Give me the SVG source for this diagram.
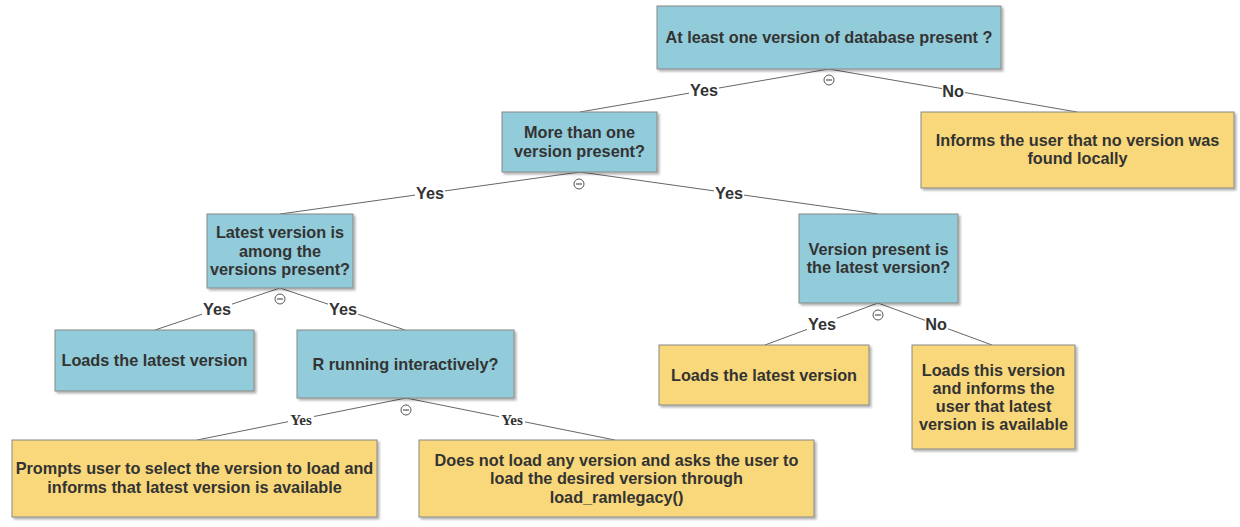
<svg xmlns="http://www.w3.org/2000/svg" width="1240" height="527" viewBox="0 0 1240 527">
<defs>
<filter id="sh" x="-10%" y="-10%" width="120%" height="130%">
<feDropShadow dx="2" dy="2" stdDeviation="1" flood-color="#000" flood-opacity="0.3"/>
</filter>
<style>
.q{fill:#92cbd9;stroke:#888;stroke-width:1;filter:url(#sh)}
.a{fill:#f8d87a;stroke:#888;stroke-width:1;filter:url(#sh)}
.t{font-family:"Liberation Sans",Arial,sans-serif;font-weight:bold;font-size:16.25px;fill:#333;text-anchor:middle}
.e{stroke:#666;stroke-width:1;fill:none}
.lb{fill:#fff}
.l{font-family:"Liberation Sans",Arial,sans-serif;font-weight:bold;font-size:16.25px;fill:#333;text-anchor:middle}
.ls{font-family:"Liberation Serif","Times New Roman",serif;font-weight:bold;font-size:15px;fill:#333;text-anchor:middle}
.c{fill:#fff;stroke:#555;stroke-width:1}
.cm{stroke:#555;stroke-width:1.2}
</style>
</defs>
<rect width="1240" height="527" fill="#fff"/>
<g id="connectors">
<line class="e" x1="829" y1="69" x2="580" y2="112"/>
<line class="e" x1="829" y1="69" x2="1077" y2="112"/>
<line class="e" x1="580" y1="172" x2="280" y2="214"/>
<line class="e" x1="580" y1="172" x2="878" y2="214"/>
<line class="e" x1="280" y1="288" x2="155" y2="330"/>
<line class="e" x1="280" y1="288" x2="405" y2="330"/>
<line class="e" x1="406" y1="398" x2="197" y2="440"/>
<line class="e" x1="406" y1="398" x2="615" y2="440"/>
<line class="e" x1="878" y1="303" x2="765" y2="345"/>
<line class="e" x1="878" y1="303" x2="992" y2="345"/>
<rect class="lb" x="689" y="82" width="30" height="16"/><text class="l" x="704" y="96">Yes</text>
<rect class="lb" x="942" y="83" width="23" height="16"/><text class="l" x="953" y="97">No</text>
<rect class="lb" x="415" y="185" width="30" height="16"/><text class="l" x="430" y="199">Yes</text>
<rect class="lb" x="714" y="185" width="30" height="16"/><text class="l" x="729" y="199">Yes</text>
<rect class="lb" x="202" y="301" width="30" height="16"/><text class="l" x="217" y="315">Yes</text>
<rect class="lb" x="328" y="301" width="30" height="16"/><text class="l" x="343" y="315">Yes</text>
<rect class="lb" x="288" y="412" width="26" height="15"/><text class="ls" x="301" y="425">Yes</text>
<rect class="lb" x="499" y="412" width="26" height="15"/><text class="ls" x="512" y="425">Yes</text>
<rect class="lb" x="807" y="316" width="30" height="16"/><text class="l" x="822" y="330">Yes</text>
<rect class="lb" x="925" y="316" width="23" height="16"/><text class="l" x="936" y="330">No</text>
<circle class="c" cx="829" cy="80" r="5"/><line class="cm" x1="826" y1="80" x2="832" y2="80"/>
<circle class="c" cx="579" cy="184" r="5"/><line class="cm" x1="576" y1="184" x2="582" y2="184"/>
<circle class="c" cx="280" cy="299" r="5"/><line class="cm" x1="277" y1="299" x2="283" y2="299"/>
<circle class="c" cx="406" cy="410" r="5"/><line class="cm" x1="403" y1="410" x2="409" y2="410"/>
<circle class="c" cx="878" cy="315" r="5"/><line class="cm" x1="875" y1="315" x2="881" y2="315"/>
</g>
<g id="n1"><rect class="q" x="657" y="6" width="344" height="63"/><text class="t" x="829" y="43">At least one version of database present ?</text></g>
<g id="n2"><rect class="q" x="502" y="112" width="155" height="60"/><text class="t" x="579.5" y="138">More than one</text><text class="t" x="579.5" y="157">version present?</text></g>
<g id="n3"><rect class="a" x="921" y="112" width="313" height="76"/><text class="t" x="1077.5" y="146">Informs the user that no version was</text><text class="t" x="1077.5" y="164">found locally</text></g>
<g id="n4"><rect class="q" x="207" y="214" width="146" height="74"/><text class="t" x="280" y="238">Latest version is</text><text class="t" x="280" y="256.5">among the</text><text class="t" x="280" y="275">versions present?</text></g>
<g id="n5"><rect class="q" x="799" y="214" width="159" height="89"/><text class="t" x="878.5" y="255">Version present is</text><text class="t" x="878.5" y="273">the latest version?</text></g>
<g id="n6"><rect class="q" x="55" y="330" width="199" height="61"/><text class="t" x="154.5" y="366">Loads the latest version</text></g>
<g id="n7"><rect class="q" x="297" y="330" width="217" height="68"/><text class="t" x="405.5" y="370">R running interactively?</text></g>
<g id="n8"><rect class="a" x="659" y="345" width="210" height="60"/><text class="t" x="764" y="381">Loads the latest version</text></g>
<g id="n9"><rect class="a" x="912" y="345" width="163" height="104"/><text class="t" x="993.5" y="376">Loads this version</text><text class="t" x="993.5" y="394">and informs the</text><text class="t" x="993.5" y="412">user that latest</text><text class="t" x="993.5" y="430">version is available</text></g>
<g id="n10"><rect class="a" x="12" y="440" width="365" height="77"/><text class="t" x="194.5" y="474">Prompts user to select the version to load and</text><text class="t" x="194.5" y="493">informs that latest version is available</text></g>
<g id="n11"><rect class="a" x="419" y="440" width="395" height="77"/><text class="t" x="616.5" y="465.5">Does not load any version and asks the user to</text><text class="t" x="616.5" y="484">load the desired version through</text><text class="t" x="616.5" y="502.5">load_ramlegacy()</text></g>
</svg>
